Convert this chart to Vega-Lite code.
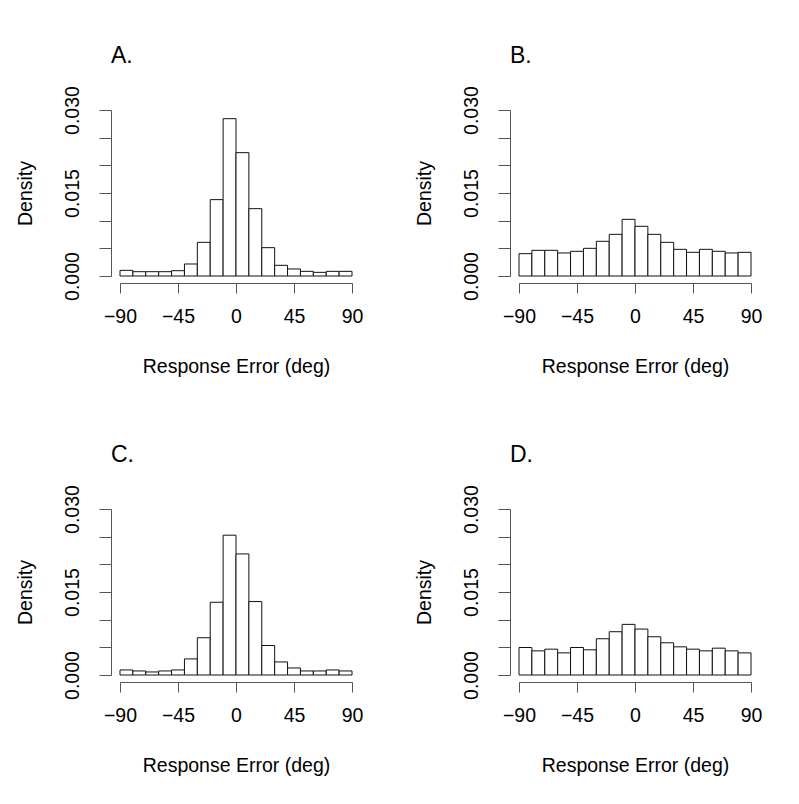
{
  "$schema": "https://vega.github.io/schema/vega-lite/v6.json",
  "background": "white",
  "padding": {"left": 15, "top": 44, "right": 10, "bottom": 10},
  "data": {"values": [
    {"panel": "A", "lo": -90, "hi": -80, "density": 0.00102},
    {"panel": "A", "lo": -80, "hi": -70, "density": 0.00078},
    {"panel": "A", "lo": -70, "hi": -60, "density": 0.00078},
    {"panel": "A", "lo": -60, "hi": -50, "density": 0.00078},
    {"panel": "A", "lo": -50, "hi": -40, "density": 0.00096},
    {"panel": "A", "lo": -40, "hi": -30, "density": 0.00217},
    {"panel": "A", "lo": -30, "hi": -20, "density": 0.00608},
    {"panel": "A", "lo": -20, "hi": -10, "density": 0.0138},
    {"panel": "A", "lo": -10, "hi": 0, "density": 0.02843},
    {"panel": "A", "lo": 0, "hi": 10, "density": 0.02229},
    {"panel": "A", "lo": 10, "hi": 20, "density": 0.01217},
    {"panel": "A", "lo": 20, "hi": 30, "density": 0.00512},
    {"panel": "A", "lo": 30, "hi": 40, "density": 0.00193},
    {"panel": "A", "lo": 40, "hi": 50, "density": 0.00127},
    {"panel": "A", "lo": 50, "hi": 60, "density": 0.00084},
    {"panel": "A", "lo": 60, "hi": 70, "density": 0.00066},
    {"panel": "A", "lo": 70, "hi": 80, "density": 0.00084},
    {"panel": "A", "lo": 80, "hi": 90, "density": 0.00084},
    {"panel": "B", "lo": -90, "hi": -80, "density": 0.00404},
    {"panel": "B", "lo": -80, "hi": -70, "density": 0.00464},
    {"panel": "B", "lo": -70, "hi": -60, "density": 0.00464},
    {"panel": "B", "lo": -60, "hi": -50, "density": 0.00416},
    {"panel": "B", "lo": -50, "hi": -40, "density": 0.00446},
    {"panel": "B", "lo": -40, "hi": -30, "density": 0.0050},
    {"panel": "B", "lo": -30, "hi": -20, "density": 0.00627},
    {"panel": "B", "lo": -20, "hi": -10, "density": 0.00753},
    {"panel": "B", "lo": -10, "hi": 0, "density": 0.01024},
    {"panel": "B", "lo": 0, "hi": 10, "density": 0.00898},
    {"panel": "B", "lo": 10, "hi": 20, "density": 0.00753},
    {"panel": "B", "lo": 20, "hi": 30, "density": 0.00608},
    {"panel": "B", "lo": 30, "hi": 40, "density": 0.00482},
    {"panel": "B", "lo": 40, "hi": 50, "density": 0.00428},
    {"panel": "B", "lo": 50, "hi": 60, "density": 0.00482},
    {"panel": "B", "lo": 60, "hi": 70, "density": 0.00446},
    {"panel": "B", "lo": 70, "hi": 80, "density": 0.00416},
    {"panel": "B", "lo": 80, "hi": 90, "density": 0.00428},
    {"panel": "C", "lo": -90, "hi": -80, "density": 0.00091},
    {"panel": "C", "lo": -80, "hi": -70, "density": 0.00073},
    {"panel": "C", "lo": -70, "hi": -60, "density": 0.00055},
    {"panel": "C", "lo": -60, "hi": -50, "density": 0.00073},
    {"panel": "C", "lo": -50, "hi": -40, "density": 0.00091},
    {"panel": "C", "lo": -40, "hi": -30, "density": 0.00291},
    {"panel": "C", "lo": -30, "hi": -20, "density": 0.00673},
    {"panel": "C", "lo": -20, "hi": -10, "density": 0.01315},
    {"panel": "C", "lo": -10, "hi": 0, "density": 0.02527},
    {"panel": "C", "lo": 0, "hi": 10, "density": 0.02188},
    {"panel": "C", "lo": 10, "hi": 20, "density": 0.01327},
    {"panel": "C", "lo": 20, "hi": 30, "density": 0.00533},
    {"panel": "C", "lo": 30, "hi": 40, "density": 0.00236},
    {"panel": "C", "lo": 40, "hi": 50, "density": 0.00127},
    {"panel": "C", "lo": 50, "hi": 60, "density": 0.00073},
    {"panel": "C", "lo": 60, "hi": 70, "density": 0.00073},
    {"panel": "C", "lo": 70, "hi": 80, "density": 0.00091},
    {"panel": "C", "lo": 80, "hi": 90, "density": 0.00073},
    {"panel": "D", "lo": -90, "hi": -80, "density": 0.00497},
    {"panel": "D", "lo": -80, "hi": -70, "density": 0.00436},
    {"panel": "D", "lo": -70, "hi": -60, "density": 0.00467},
    {"panel": "D", "lo": -60, "hi": -50, "density": 0.0040},
    {"panel": "D", "lo": -50, "hi": -40, "density": 0.00497},
    {"panel": "D", "lo": -40, "hi": -30, "density": 0.00455},
    {"panel": "D", "lo": -30, "hi": -20, "density": 0.00655},
    {"panel": "D", "lo": -20, "hi": -10, "density": 0.00782},
    {"panel": "D", "lo": -10, "hi": 0, "density": 0.00915},
    {"panel": "D", "lo": 0, "hi": 10, "density": 0.0083},
    {"panel": "D", "lo": 10, "hi": 20, "density": 0.00691},
    {"panel": "D", "lo": 20, "hi": 30, "density": 0.00582},
    {"panel": "D", "lo": 30, "hi": 40, "density": 0.00509},
    {"panel": "D", "lo": 40, "hi": 50, "density": 0.00467},
    {"panel": "D", "lo": 50, "hi": 60, "density": 0.00436},
    {"panel": "D", "lo": 60, "hi": 70, "density": 0.00485},
    {"panel": "D", "lo": 70, "hi": 80, "density": 0.00436},
    {"panel": "D", "lo": 80, "hi": 90, "density": 0.0040}
  ]},
  "columns": 2,
  "spacing": {"column": 167, "row": 233},
  "bounds": "flush",
  "concat": [
    {
      "title": {"text": "A."},
      "width": 232, "height": 166,
      "transform": [{"filter": "datum.panel == 'A'"}],
      "mark": {"type": "bar", "fill": "white", "stroke": "#111", "strokeWidth": 1},
      "encoding": {
        "x": {"field": "lo", "type": "quantitative", "scale": {"domain": [-90, 90], "nice": false, "zero": false}, "axis": {"title": "Response Error (deg)", "values": [-90, -45, 0, 45, 90]}},
        "x2": {"field": "hi"},
        "y": {"field": "density", "type": "quantitative", "scale": {"domain": [0, 0.03], "nice": false}, "axis": {"title": "Density", "values": [0, 0.005, 0.01, 0.015, 0.02, 0.025, 0.03]}},
        "y2": {"datum": 0}
      }
    },
    {
      "title": {"text": "B."},
      "width": 232, "height": 166,
      "transform": [{"filter": "datum.panel == 'B'"}],
      "mark": {"type": "bar", "fill": "white", "stroke": "#111", "strokeWidth": 1},
      "encoding": {
        "x": {"field": "lo", "type": "quantitative", "scale": {"domain": [-90, 90], "nice": false, "zero": false}, "axis": {"title": "Response Error (deg)", "values": [-90, -45, 0, 45, 90]}},
        "x2": {"field": "hi"},
        "y": {"field": "density", "type": "quantitative", "scale": {"domain": [0, 0.03], "nice": false}, "axis": {"title": "Density", "values": [0, 0.005, 0.01, 0.015, 0.02, 0.025, 0.03]}},
        "y2": {"datum": 0}
      }
    },
    {
      "title": {"text": "C."},
      "width": 232, "height": 166,
      "transform": [{"filter": "datum.panel == 'C'"}],
      "mark": {"type": "bar", "fill": "white", "stroke": "#111", "strokeWidth": 1},
      "encoding": {
        "x": {"field": "lo", "type": "quantitative", "scale": {"domain": [-90, 90], "nice": false, "zero": false}, "axis": {"title": "Response Error (deg)", "values": [-90, -45, 0, 45, 90]}},
        "x2": {"field": "hi"},
        "y": {"field": "density", "type": "quantitative", "scale": {"domain": [0, 0.03], "nice": false}, "axis": {"title": "Density", "values": [0, 0.005, 0.01, 0.015, 0.02, 0.025, 0.03]}},
        "y2": {"datum": 0}
      }
    },
    {
      "title": {"text": "D."},
      "width": 232, "height": 166,
      "transform": [{"filter": "datum.panel == 'D'"}],
      "mark": {"type": "bar", "fill": "white", "stroke": "#111", "strokeWidth": 1},
      "encoding": {
        "x": {"field": "lo", "type": "quantitative", "scale": {"domain": [-90, 90], "nice": false, "zero": false}, "axis": {"title": "Response Error (deg)", "values": [-90, -45, 0, 45, 90]}},
        "x2": {"field": "hi"},
        "y": {"field": "density", "type": "quantitative", "scale": {"domain": [0, 0.03], "nice": false}, "axis": {"title": "Density", "values": [0, 0.005, 0.01, 0.015, 0.02, 0.025, 0.03]}},
        "y2": {"datum": 0}
      }
    }
  ],
  "config": {
    "font": "Liberation Sans",
    "view": {"stroke": null},
    "title": {"fontSize": 23, "fontWeight": "normal", "anchor": "start", "dx": -9, "baseline": "alphabetic", "offset": 18, "color": "black", "frame": "group"},
    "axis": {
      "grid": false,
      "domainColor": "#555",
      "tickColor": "#555",
      "labelColor": "black",
      "titleColor": "black",
      "labelFontSize": 19.5,
      "titleFontSize": 19.5,
      "titleFontWeight": "normal",
      "labelFont": "Liberation Sans",
      "titleFont": "Liberation Sans"
    },
    "axisX": {
      "tickSize": 10,
      "offset": 7,
      "labelPadding": 14,
      "labelFlush": false,
      "labelOverlap": false,
      "titlePadding": 32
    },
    "axisY": {
      "labelExpr": "round(datum.value * 1000) % 15 == 0 ? format(datum.value, '.3f') : ''",
      "labelAngle": 270,
      "labelAlign": "center",
      "labelBaseline": "alphabetic",
      "labelPadding": 21,
      "labelOverlap": false,
      "labelFlush": false,
      "tickSize": 12,
      "offset": 9,
      "titleBaseline": "alphabetic",
      "titlePadding": 30.5
    }
  }
}
